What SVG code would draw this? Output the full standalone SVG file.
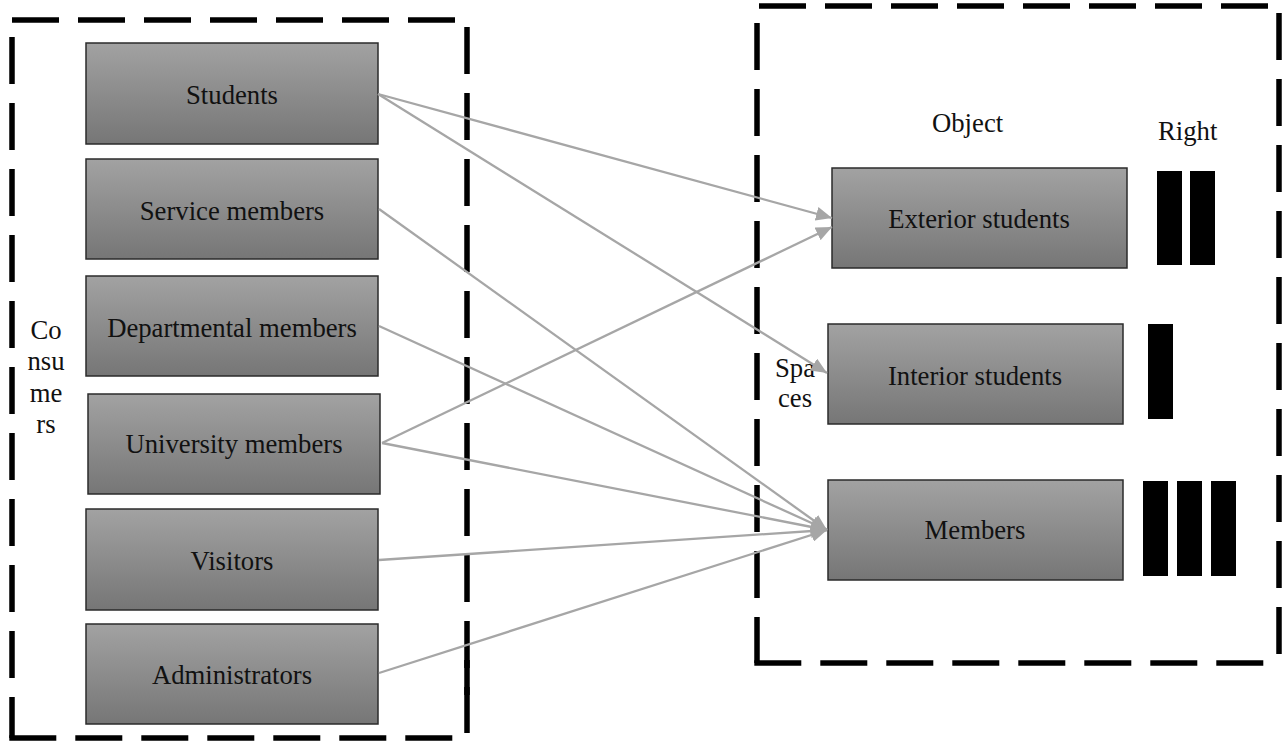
<svg xmlns="http://www.w3.org/2000/svg" width="1285" height="744" viewBox="0 0 1285 744">
  <defs>
    <linearGradient id="boxFill" x1="0" y1="0" x2="0" y2="1">
      <stop offset="0" stop-color="#a2a2a2"/>
      <stop offset="1" stop-color="#767676"/>
    </linearGradient>
    <marker id="arrow" markerUnits="userSpaceOnUse" markerWidth="18" markerHeight="14" refX="16" refY="7" orient="auto">
      <path d="M0,0 L16,7 L0,14 Z" fill="#a6a6a6"/>
    </marker>
    <style>
      .frame { fill: none; stroke: #000; stroke-width: 5.5; stroke-dasharray: 47 19; }
      .box { fill: url(#boxFill); stroke: #2b2b2b; stroke-width: 1.5; }
      .label { font-family: "Liberation Serif", "Times New Roman", serif; font-size: 26.7px; fill: #111; text-anchor: middle; }
      .side { font-family: "Liberation Serif", "Times New Roman", serif; font-size: 26.7px; fill: #111; text-anchor: middle; }
      .bar { fill: #000; }
      .link { fill: none; stroke: #a6a6a6; stroke-width: 2.3; marker-end: url(#arrow); }
    </style>
  </defs>

  <rect width="1285" height="744" fill="#fff"/>

  <!-- Consumers frame -->
  <g id="consumers-frame">
    <line class="frame" x1="12" y1="20" x2="460" y2="20"/>
    <line class="frame" x1="12" y1="37" x2="12" y2="738"/>
    <line class="frame" x1="9.3" y1="738" x2="460" y2="738"/>
    <line class="frame" x1="467" y1="27" x2="467" y2="733"/>
    <line x1="467" y1="660" x2="467" y2="695" stroke="#000" stroke-width="5.5"/>
    <text class="side" x="46" y="339">Co</text>
    <text class="side" x="46" y="370">nsu</text>
    <text class="side" x="46" y="402">me</text>
    <text class="side" x="46" y="433">rs</text>
  </g>

  <!-- Spaces frame -->
  <g id="spaces-frame">
    <line class="frame" x1="759" y1="6" x2="1275" y2="6"/>
    <line class="frame" x1="757" y1="23" x2="757" y2="663"/>
    <line class="frame" x1="754.3" y1="663" x2="1275" y2="663"/>
    <line class="frame" x1="1279" y1="13" x2="1279" y2="660"/>
    <text class="side" x="932" y="132" style="text-anchor:start">Object</text>
    <text class="side" x="1158" y="140" style="text-anchor:start">Right</text>
    <text class="side" x="795" y="377">Spa</text>
    <text class="side" x="795" y="407">ces</text>
  </g>

  <!-- Consumer nodes -->
  <g id="node-students">
    <rect class="box" x="86" y="43" width="292" height="101"/>
    <text class="label" x="232" y="104">Students</text>
  </g>
  <g id="node-service-members">
    <rect class="box" x="86" y="159" width="292" height="100"/>
    <text class="label" x="232" y="220">Service members</text>
  </g>
  <g id="node-departmental-members">
    <rect class="box" x="86" y="276" width="292" height="100"/>
    <text class="label" x="232" y="337">Departmental members</text>
  </g>
  <g id="node-university-members">
    <rect class="box" x="88" y="394" width="292" height="100"/>
    <text class="label" x="234" y="453">University members</text>
  </g>
  <g id="node-visitors">
    <rect class="box" x="86" y="509" width="292" height="101"/>
    <text class="label" x="232" y="570">Visitors</text>
  </g>
  <g id="node-administrators">
    <rect class="box" x="86" y="624" width="292" height="100"/>
    <text class="label" x="232" y="684">Administrators</text>
  </g>

  <!-- Space nodes with their right bars -->
  <g id="node-exterior-students">
    <rect class="box" x="832" y="168" width="295" height="100"/>
    <text class="label" x="979" y="228">Exterior students</text>
    <rect class="bar" x="1157" y="171" width="25" height="94"/>
    <rect class="bar" x="1190" y="171" width="25" height="94"/>
  </g>
  <g id="node-interior-students">
    <rect class="box" x="828" y="324" width="295" height="100"/>
    <text class="label" x="975" y="385">Interior students</text>
    <rect class="bar" x="1148" y="324" width="25" height="95"/>
  </g>
  <g id="node-members">
    <rect class="box" x="828" y="480" width="295" height="100"/>
    <text class="label" x="975" y="539">Members</text>
    <rect class="bar" x="1143" y="481" width="25" height="95"/>
    <rect class="bar" x="1177" y="481" width="25" height="95"/>
    <rect class="bar" x="1211" y="481" width="25" height="95"/>
  </g>

  <!-- Connectors -->
  <g id="connectors">
    <line class="link" x1="378" y1="94" x2="832" y2="218"/>
    <line class="link" x1="378" y1="94" x2="827" y2="373"/>
    <line class="link" x1="379" y1="209" x2="827" y2="530"/>
    <line class="link" x1="379" y1="326" x2="827" y2="530"/>
    <line class="link" x1="382" y1="443" x2="832" y2="227"/>
    <line class="link" x1="382" y1="443" x2="827" y2="530"/>
    <line class="link" x1="379" y1="560" x2="827" y2="530"/>
    <line class="link" x1="379" y1="673" x2="827" y2="530"/>
  </g>
</svg>
